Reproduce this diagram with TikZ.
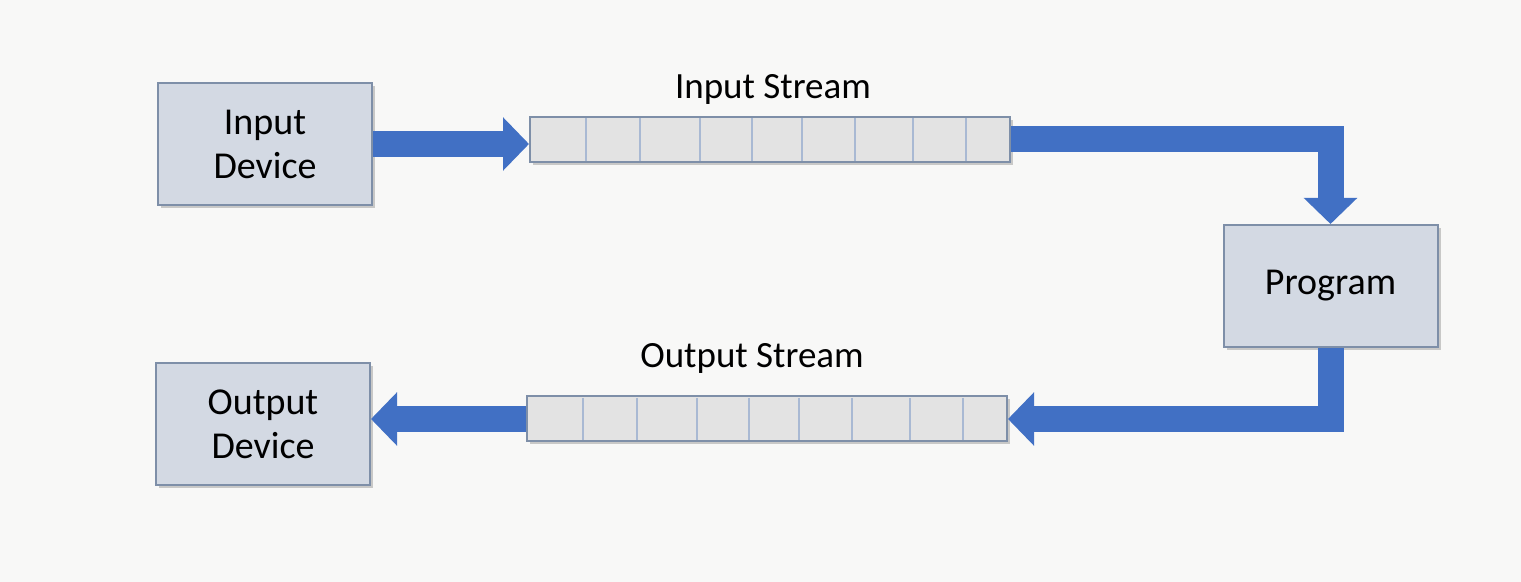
\documentclass[tikz,border=0pt]{standalone}
\usepackage{fontspec}
\setmainfont{Carlito}
\usetikzlibrary{arrows.meta,shadows}
\definecolor{bg}{HTML}{F8F8F7}
\definecolor{boxfill}{HTML}{D3D9E3}
\definecolor{boxline}{HTML}{7E8FA8}
\definecolor{cellfill}{HTML}{E3E3E3}
\definecolor{celldiv}{HTML}{A9B9D3}
\definecolor{flow}{HTML}{4170C4}
\tikzset{
  devbox/.style={draw=boxline, line width=1pt, fill=boxfill, minimum width=107pt, minimum height=61pt,
    align=center, inner sep=0pt, font=\fontsize{19pt}{22pt}\selectfont,
    drop shadow={shadow xshift=1.5pt, shadow yshift=-1.5pt, opacity=0.4}},
  streambar/.style={draw=boxline, line width=1pt, fill=cellfill, minimum width=240pt, minimum height=22.5pt,
    inner sep=0pt, drop shadow={shadow xshift=1.5pt, shadow yshift=-1.5pt, opacity=0.4}},
  celldivider/.style={draw=celldiv, line width=0.8pt},
  lbl/.style={font=\fontsize{18.5pt}{22pt}\selectfont, inner sep=0pt},
  flowarrow/.style={draw=flow, line width=13pt, line join=miter,
    -{Triangle[width=26pt,length=13pt]}}
}
\begin{document}
\begin{tikzpicture}[x=0.5pt,y=-0.5pt]
\fill[bg] (0,0) rectangle (1521,582);
\useasboundingbox (0,0) rectangle (1521,582);
% nodes
\node[devbox] (indev) at (265,144) {Input\\Device};
\node[devbox] (prog) at (1330.5,286) {Program};
\node[devbox] (outdev) at (263,424.5) {Output\\Device};
\node[streambar] (instream) at (770,139.5) {};
\node[streambar] (outstream) at (767,419) {};
\node[lbl] (inlbl) at (773,89) {Input Stream};
\node[lbl] (outlbl) at (752,358) {Output Stream};
% cell dividers
\foreach \x in {586,640,700,752,802,855,913,966}{
  \draw[celldivider] (\x,118) -- (\x,161);
}
\foreach \x in {583,637,697,749,799,852,910,963}{
  \draw[celldivider] (\x,398) -- (\x,440);
}
% connectors
\draw[flowarrow] (indev.east) -- (indev.east -| instream.west);
\draw[flowarrow] (instream.east) -| (prog.north);
\draw[flowarrow] (prog.south) |- (outstream.east);
\draw[flowarrow] (outstream.west) -- (outstream.west -| outdev.east);
\end{tikzpicture}
\end{document}
